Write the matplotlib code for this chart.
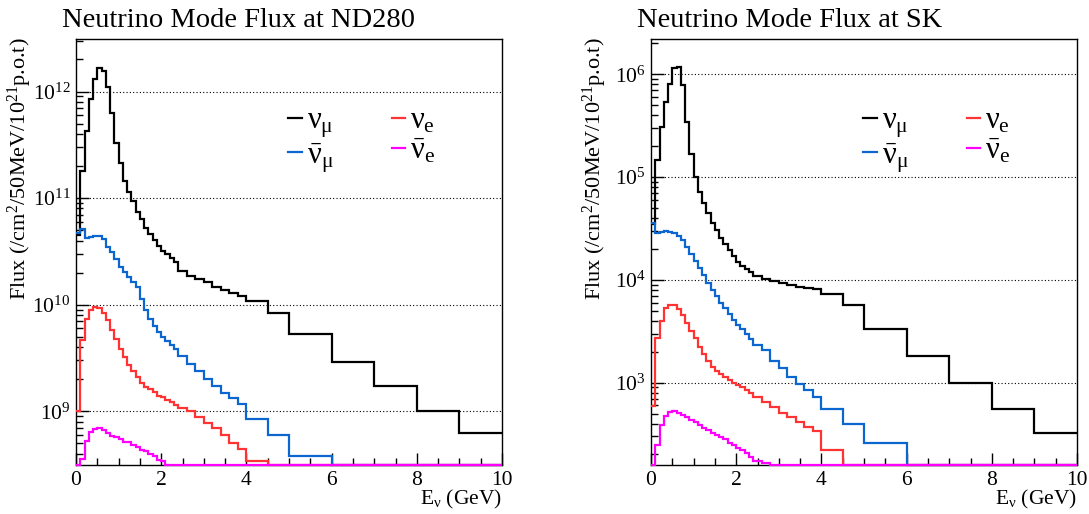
import numpy as np
import matplotlib
matplotlib.use('Agg')
import matplotlib.pyplot as plt
from matplotlib.ticker import MultipleLocator, LogLocator, NullFormatter

plt.rcParams['font.family'] = ['Liberation Serif', 'DejaVu Serif']
# upright greek like ROOT's Times font
plt.rcParams['mathtext.fontset'] = 'custom'
plt.rcParams['mathtext.rm'] = 'Liberation Serif'
plt.rcParams['mathtext.it'] = 'Liberation Serif'
plt.rcParams['mathtext.bf'] = 'Liberation Serif:bold'

# bin edges in GeV (0.1 GeV bins to 2.4, then 0.2, then coarse)
edges = [0.0, 0.1, 0.2, 0.3, 0.4, 0.5, 0.6, 0.7, 0.8, 0.9, 1.0, 1.1, 1.2,
         1.3, 1.4, 1.5, 1.6, 1.7, 1.8, 1.9, 2.0, 2.1, 2.2, 2.3, 2.4,
         2.6, 2.8, 3.0, 3.2, 3.4, 3.6, 3.8, 4.0, 4.5, 5.0, 6.0, 7.0, 8.0, 9.0, 10.0]

# ND280 flux (/cm2/50MeV/1e21 pot)
nd_numu = [4.47e10, 1.78e11, 4.27e11, 8.51e11, 1.32e12, 1.66e12, 1.55e12, 1.10e12,
           6.31e11, 3.31e11, 2.14e11, 1.45e11, 1.15e11, 9.33e10, 7.41e10, 6.31e10,
           5.25e10, 4.57e10, 4.07e10, 3.55e10, 3.16e10, 3.02e10, 2.75e10, 2.51e10,
           2.09e10, 1.86e10, 1.74e10, 1.62e10, 1.48e10, 1.38e10, 1.29e10, 1.20e10,
           1.08e10, 8.32e9, 5.25e9, 2.88e9, 1.74e9, 1.0e9, 6.31e8]
nd_numubar = [4.73e10, 5.13e10, 4.26e10, 4.35e10, 4.44e10, 4.41e10, 4.10e10, 3.50e10,
              3.10e10, 2.66e10, 2.27e10, 2.04e10, 1.83e10, 1.64e10, 1.46e10, 1.12e10,
              8.9e9, 7.4e9, 6.3e9, 5.6e9, 5.0e9, 4.57e9, 4.17e9, 3.80e9,
              3.31e9, 2.75e9, 2.40e9, 2.0e9, 1.74e9, 1.48e9, 1.32e9, 1.17e9,
              8.5e8, 6.0e8, 3.8e8, 0, 0, 0, 0]
nd_nue = [1.0e9, 4.68e9, 7.41e9, 8.91e9, 9.55e9, 9.33e9, 8.32e9, 7.18e9,
          5.75e9, 4.73e9, 3.86e9, 3.21e9, 2.72e9, 2.36e9, 2.08e9, 1.85e9,
          1.70e9, 1.61e9, 1.50e9, 1.40e9, 1.35e9, 1.28e9, 1.21e9, 1.14e9,
          1.07e9, 1.0e9, 8.9e8, 7.8e8, 6.9e8, 6.0e8, 5.0e8, 4.4e8,
          3.4e8, 0, 0, 0, 0, 0, 0]
nd_nuebar = [0, 3.6e8, 5.3e8, 6.4e8, 6.8e8, 6.9e8, 6.7e8, 6.3e8,
             5.9e8, 5.7e8, 5.5e8, 5.2e8, 5.1e8, 4.8e8, 4.6e8, 4.3e8,
             4.2e8, 4.0e8, 3.8e8, 3.5e8, 3.4e8, 0, 0, 0,
             0, 0, 0, 0, 0, 0, 0, 0,
             0, 0, 0, 0, 0, 0, 0]

# SK flux
sk_numu = [3.5e4, 1.45e5, 3.1e5, 5.4e5, 8.1e5, 1.15e6, 1.17e6, 7.8e5,
           3.46e5, 1.66e5, 1.01e5, 7.2e4, 5.6e4, 4.45e4, 3.6e4, 3.05e4,
           2.58e4, 2.22e4, 1.95e4, 1.72e4, 1.50e4, 1.37e4, 1.27e4, 1.20e4,
           1.10e4, 1.01e4, 9.75e3, 9.25e3, 8.9e3, 8.5e3, 8.3e3, 8.1e3,
           7.35e3, 5.7e3, 3.3e3, 1.8e3, 1.0e3, 5.6e2, 3.2e2]
sk_numubar = [3.55e4, 2.85e4, 2.90e4, 2.96e4, 2.95e4, 2.88e4, 2.69e4, 2.45e4,
              2.10e4, 1.80e4, 1.53e4, 1.31e4, 1.11e4, 9.4e3, 8.0e3, 6.9e3,
              6.0e3, 5.3e3, 4.7e3, 4.1e3, 3.6e3, 3.3e3, 2.95e3, 2.64e3,
              2.33e3, 2.07e3, 1.62e3, 1.40e3, 1.14e3, 9.8e2, 8.5e2, 7.3e2,
              5.6e2, 4.0e2, 2.6e2, 0, 0, 0, 0]
sk_nue = [5.9e2, 2.7e3, 4.0e3, 5.3e3, 5.7e3, 5.7e3, 5.2e3, 4.6e3,
          3.84e3, 3.2e3, 2.7e3, 2.24e3, 1.9e3, 1.63e3, 1.43e3, 1.31e3,
          1.22e3, 1.13e3, 1.06e3, 1.0e3, 9.5e2, 9.0e2, 8.5e2, 7.9e2,
          7.2e2, 6.5e2, 5.8e2, 5.1e2, 4.6e2, 4.1e2, 3.7e2, 3.4e2,
          2.2e2, 0, 0, 0, 0, 0, 0]
sk_nuebar = [0, 2.5e2, 3.9e2, 4.7e2, 5.2e2, 5.3e2, 5.1e2, 4.85e2,
             4.6e2, 4.3e2, 4.1e2, 3.9e2, 3.65e2, 3.45e2, 3.25e2, 3.1e2,
             2.95e2, 2.8e2, 2.6e2, 2.45e2, 2.3e2, 2.2e2, 2.05e2, 1.9e2,
             1.74e2, 1.64e2, 0, 0, 0, 0, 0, 0,
             0, 0, 0, 0, 0, 0, 0]

labels = [r'$\nu_{\mu}$', r'$\bar{\nu}_{\mu}$', r'$\nu_{e}$', r'$\bar{\nu}_{e}$']
colors = ['black', '#0b66d0', '#ff3333', '#ff00ff']

W, H = 1089, 514
fig = plt.figure(figsize=(W / 100, H / 100), dpi=100)


def draw_panel(left_px, series, ylim, title):
    ax = fig.add_axes([left_px / W, (H - 465) / H, 426 / W, 425.7 / H])
    ax.set_yscale('log')
    for vals, lab, col in zip(series, labels, colors):
        # empty bins sit on the bottom of the frame, as ROOT draws them
        v = np.clip(np.array(vals, dtype=float), ylim[0], None)
        ax.stairs(v, edges, baseline=None, color=col, lw=1.6, label=lab,
                  zorder=3, clip_on=False)
    ax.set_xlim(0, 10)
    ax.set_ylim(*ylim)
    ax.xaxis.set_major_locator(MultipleLocator(2))
    ax.xaxis.set_minor_locator(MultipleLocator(0.5))
    ax.yaxis.set_major_locator(LogLocator(base=10))
    ax.yaxis.set_minor_locator(LogLocator(base=10, subs=np.arange(2, 10)))
    ax.yaxis.set_minor_formatter(NullFormatter())
    ax.tick_params(which='both', direction='in', top=False, right=False,
                   labelsize=15.5)
    ax.tick_params(which='major', length=9, width=1)
    ax.tick_params(which='minor', length=5, width=1)
    ax.tick_params(axis='x', pad=4)
    ax.tick_params(axis='y', pad=4)
    ax.yaxis.grid(True, which='major', linestyle=(0, (1, 2)), color='black', lw=0.8)
    ax.set_axisbelow(True)
    for s in ax.spines.values():
        s.set_linewidth(1.0)

    handles, labs = ax.get_legend_handles_labels()
    ax.legend(handles, labs, ncol=2, frameon=False, fontsize=22,
              loc='upper left', bbox_to_anchor=(0.47, 0.87),
              handlelength=0.45, handletextpad=0.15, columnspacing=1.9,
              labelspacing=0.02, borderaxespad=0)

    fig.text((left_px - 14) / W, 1 - 27 / H, title, fontsize=20.5,
             ha='left', va='baseline')
    fig.text((left_px - 56) / W, 1 - 37 / H,
             r'Flux (/cm$^{2}$/50MeV/10$^{21}$p.o.t)', fontsize=16,
             rotation=90, ha='center', va='top')
    fig.text((left_px + 426) / W, 1 - 499 / H, r'E$_{\nu}$ (GeV)', fontsize=15.5,
             ha='right', va='center')
    return ax


draw_panel(76, [nd_numu, nd_numubar, nd_nue, nd_nuebar], (3.13e8, 3.09e12),
           'Neutrino Mode Flux at ND280')
draw_panel(651, [sk_numu, sk_numubar, sk_nue, sk_nuebar], (1.58e2, 2.19e6),
           'Neutrino Mode Flux at SK')

fig.savefig('out.png', dpi=100)
